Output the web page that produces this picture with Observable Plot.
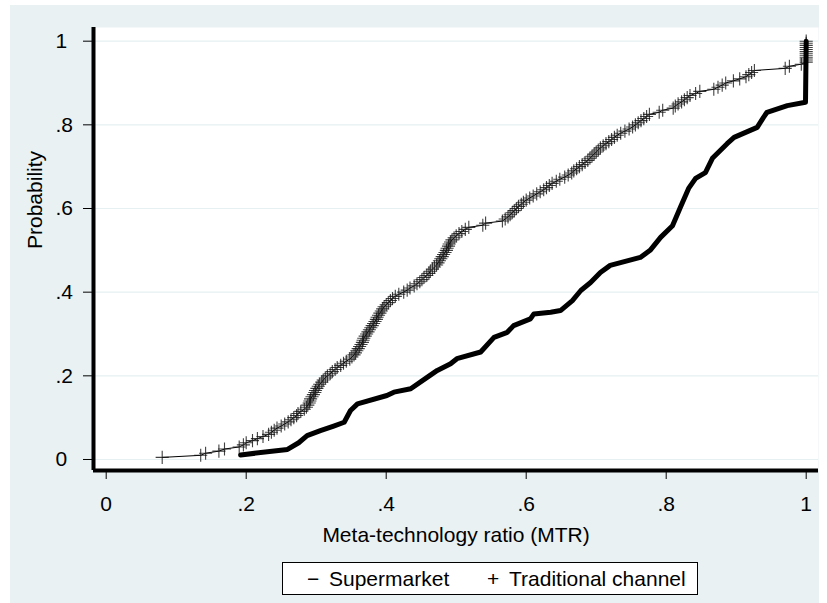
<!DOCTYPE html>
<html>
<head>
<meta charset="utf-8">
<script src="https://cdn.jsdelivr.net/npm/d3@7"></script>
<script src="https://cdn.jsdelivr.net/npm/@observablehq/plot@0.6"></script>
<style>
  body { margin: 0; background: #ffffff; font-family: "Liberation Sans", Arial, sans-serif; }
  #wrap { position: relative; width: 827px; height: 603px; overflow: hidden; }
  #bg { position: absolute; left: 10px; top: 5px; width: 809px; height: 598px; background: #eaf1f3; }
  #chart { position: absolute; left: 0; top: 0; }
  #legend { position: absolute; left: 282px; top: 562px; width: 414px; height: 31px; border: 1px solid #000; background: #fff; font-size: 21px; color: #000; }
  #legend span { position: absolute; top: 4px; line-height: 23px; white-space: nowrap; }
</style>
</head>
<body>
<div id="wrap">
  <div id="bg"></div>
  <div id="chart"></div>
  <div id="legend"></div>
</div>
<script>
// ---- data ----
const xTicks = [0, 0.2, 0.4, 0.6, 0.8, 1];
const xTickLabels = ["0", ".2", ".4", ".6", ".8", "1"];
const yTicks = [0, 0.2, 0.4, 0.6, 0.8, 1];
const yTickLabels = ["0", ".2", ".4", ".6", ".8", "1"];
const xTitle = "Meta-technology ratio (MTR)";
const yTitle = "Probability";
const seriesNames = ["Supermarket", "Traditional channel"];

// Traditional channel: MTR observations (sorted), plotted as an empirical CDF
const traditionalMTR = [
  0.08, 0.135, 0.142, 0.161, 0.169, 0.19, 0.196, 0.2, 0.209, 0.216,
  0.224, 0.232, 0.236, 0.24, 0.244, 0.25, 0.255, 0.26, 0.264, 0.268,
  0.272, 0.274, 0.278, 0.283, 0.286, 0.288, 0.29, 0.291, 0.292, 0.294,
  0.296, 0.298, 0.299, 0.301, 0.303, 0.305, 0.308, 0.31, 0.313, 0.316,
  0.32, 0.323, 0.327, 0.33, 0.335, 0.339, 0.343, 0.348, 0.351, 0.354,
  0.356, 0.358, 0.36, 0.362, 0.364, 0.366, 0.367, 0.368, 0.37, 0.372,
  0.374, 0.376, 0.378, 0.38, 0.382, 0.384, 0.386, 0.387, 0.389, 0.391,
  0.393, 0.395, 0.397, 0.4, 0.403, 0.406, 0.409, 0.413, 0.418, 0.425,
  0.43, 0.434, 0.44, 0.444, 0.448, 0.451, 0.454, 0.458, 0.461, 0.463,
  0.466, 0.469, 0.472, 0.474, 0.476, 0.478, 0.48, 0.482, 0.484, 0.486,
  0.487, 0.489, 0.49, 0.492, 0.494, 0.497, 0.5, 0.504, 0.508, 0.513,
  0.518, 0.538, 0.542, 0.566, 0.57, 0.574, 0.577, 0.58, 0.583, 0.586,
  0.589, 0.593, 0.596, 0.6, 0.605, 0.61, 0.615, 0.62, 0.625, 0.629,
  0.633, 0.637, 0.643, 0.648, 0.655, 0.66, 0.665, 0.668, 0.672, 0.676,
  0.68, 0.684, 0.688, 0.691, 0.694, 0.697, 0.7, 0.703, 0.706, 0.71,
  0.714, 0.718, 0.722, 0.726, 0.73, 0.735, 0.741, 0.747, 0.752, 0.756,
  0.76, 0.764, 0.768, 0.772, 0.776, 0.79, 0.795, 0.81, 0.813, 0.817,
  0.822, 0.826, 0.83, 0.834, 0.842, 0.848, 0.868, 0.874, 0.88, 0.885,
  0.896, 0.905, 0.914, 0.918, 0.922, 0.926, 0.97, 0.976, 0.993,
  1, 1, 1, 1, 1, 1, 1, 1, 1, 1, 1
];

// Supermarket: cumulative probability curve, read as (MTR, probability) points
const supermarketMTR = [
  0.192, 0.259, 0.275, 0.287, 0.306, 0.325, 0.34, 0.349, 0.359, 0.401,
  0.411, 0.435, 0.459, 0.473, 0.492, 0.501, 0.535, 0.554, 0.573, 0.582,
  0.606, 0.611, 0.635, 0.649, 0.666, 0.678, 0.692, 0.706, 0.72, 0.763,
  0.777, 0.792, 0.809, 0.82, 0.832, 0.842, 0.856, 0.866, 0.887, 0.897,
  0.93, 0.939, 0.944, 0.973, 0.999, 1.0
];
const supermarketProb = [
  0.011, 0.024, 0.04, 0.057, 0.069, 0.08, 0.089, 0.117, 0.133, 0.153,
  0.161, 0.169, 0.197, 0.213, 0.229, 0.241, 0.257, 0.292, 0.304, 0.32,
  0.336, 0.348, 0.352, 0.356, 0.38, 0.404, 0.423, 0.447, 0.464, 0.483,
  0.5, 0.531, 0.559, 0.602, 0.648, 0.672, 0.686, 0.72, 0.755, 0.77,
  0.794, 0.818, 0.83, 0.846, 0.854, 1.0
];

// ---- build tables ----
const trad = traditionalMTR.map((v, i) => ({ x: v, p: (i + 1) / traditionalMTR.length }));
const superm = supermarketMTR.map((v, i) => ({ x: v, p: supermarketProb[i] }));

const xDomain = [-0.01814, 1.01757];
const yDomain = [-0.0263, 1.0327];
const fmt = (ticks, labels) => d => labels[ticks.indexOf(d)];

const chart = Plot.plot({
  width: 827,
  height: 603,
  marginLeft: 93,
  marginRight: 9,
  marginTop: 27,
  marginBottom: 133,
  style: { background: "transparent", fontFamily: "'Liberation Sans', Arial, sans-serif", fontSize: "21px", color: "#000", overflow: "visible" },
  x: { domain: xDomain },
  y: { domain: yDomain },
  marks: [
    Plot.frame({ fill: "#ffffff", stroke: null }),
    Plot.gridY(yTicks, { stroke: "#e6eff1", strokeOpacity: 1, strokeWidth: 1.2 }),
    Plot.line(trad, { x: "x", y: "p", stroke: "#000", strokeWidth: 1 }),
    Plot.dot(trad, { x: "x", y: "p", symbol: "plus", r: 4.3, stroke: "#111", strokeOpacity: 0.8, strokeWidth: 1.1 }),
    Plot.line(superm, { x: "x", y: "p", stroke: "#000", strokeWidth: 5, strokeLinejoin: "round", strokeLinecap: "round" }),
    Plot.axisX(xTicks, { tickFormat: fmt(xTicks, xTickLabels), tickSize: 9, tickPadding: 17, label: null, stroke: "#000", fontSize: 21 }),
    Plot.axisY(yTicks, { tickFormat: fmt(yTicks, yTickLabels), tickSize: 10, tickPadding: 28, textAnchor: "start", label: null, stroke: "#000", fontSize: 21 }),
    Plot.ruleX([xDomain[0]], { stroke: "#000", strokeWidth: 4 }),
    Plot.ruleY([yDomain[0]], { stroke: "#000", strokeWidth: 4 }),
    Plot.text([yTitle], { frameAnchor: "left", rotate: -90, dx: -58, fontSize: 21 }),
    Plot.text([xTitle], { frameAnchor: "bottom", dy: 71, fontSize: 21 })
  ]
});
document.getElementById("chart").appendChild(chart);

// ---- legend ----
const legend = document.getElementById("legend");
const items = [
  { sym: "\u2212", symLeft: 24, label: seriesNames[0], labelLeft: 46 },
  { sym: "+", symLeft: 204, label: seriesNames[1], labelLeft: 226 }
];
for (const it of items) {
  const s = document.createElement("span");
  s.textContent = it.sym; s.style.left = it.symLeft + "px";
  legend.appendChild(s);
  const t = document.createElement("span");
  t.textContent = it.label; t.style.left = it.labelLeft + "px";
  legend.appendChild(t);
}
</script>
</body>
</html>
